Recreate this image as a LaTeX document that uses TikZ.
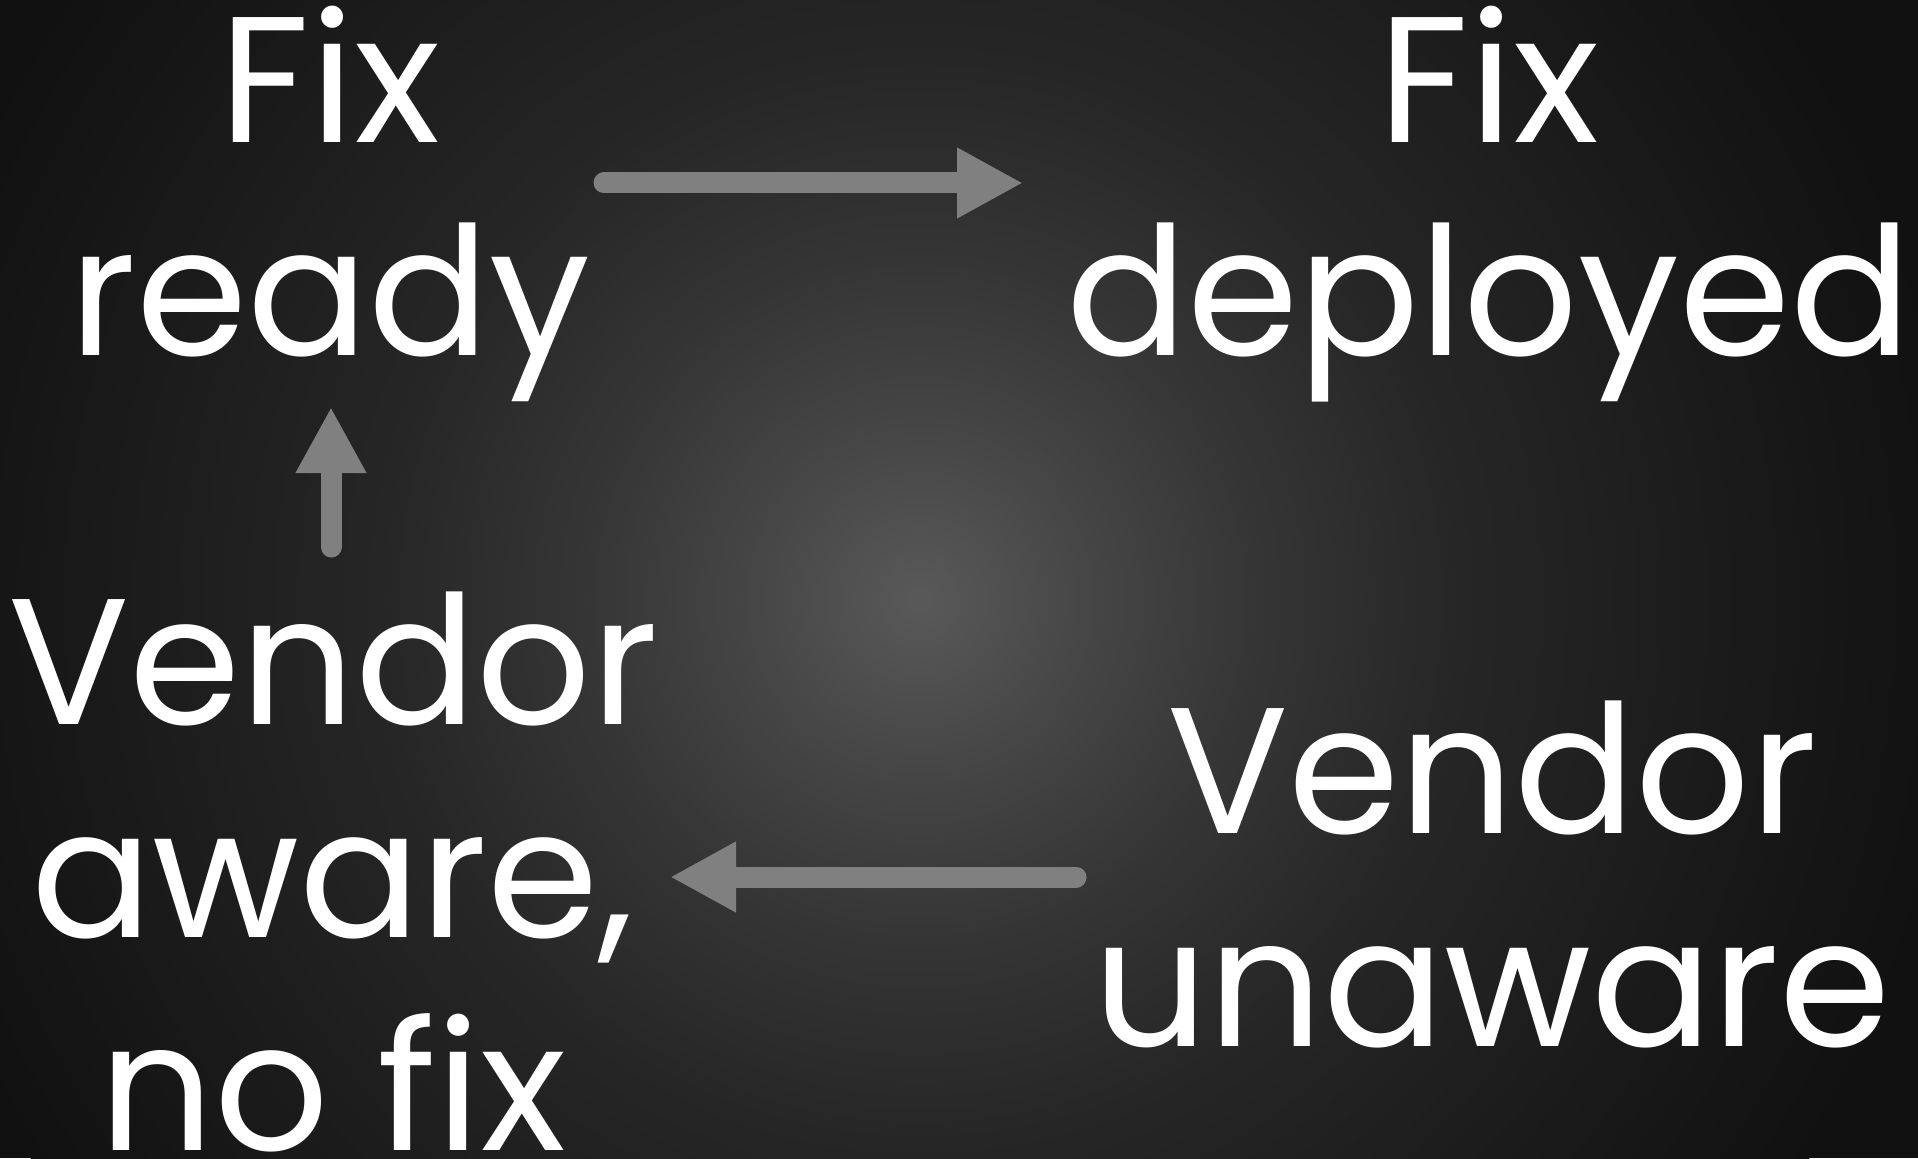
\documentclass[tikz,border=0pt]{standalone}
\usepackage{fontspec}
\setmainfont{Poppins}
\usetikzlibrary{
  arrows.meta, % For arrow tips
  shadings % For the glow in the background
}

\definecolor{glowc}{RGB}{89,89,89}
\definecolor{innerc}{RGB}{70,70,70}
\definecolor{midc}{RGB}{53,53,53}
\definecolor{darkc}{RGB}{38,38,38}
\definecolor{farc}{RGB}{20,20,20}
\definecolor{edgec}{RGB}{17,17,17}
\definecolor{arrowc}{RGB}{128,128,128}
\pgfdeclareradialshading{bgglow}{\pgfpoint{0bp}{0bp}}{%
  color(0bp)=(glowc); color(4bp)=(innerc); color(8.1bp)=(midc);
  color(12.9bp)=(darkc); color(22.9bp)=(farc); color(25bp)=(edgec);
  color(50bp)=(edgec)}

\begin{document}
\begin{tikzpicture}[
      state/.style={text=white, align=center, inner sep=0pt, anchor=base,
        font=\fontsize{51}{60.6}\selectfont}, % Style for the four states (base = last line)
      flow/.style={arrowc, line width=0.21cm, line cap=round,
        -{Triangle[length=0.66cm, width=0.66cm]}}, % Style for the arrows
    ]

    % Hintergrund
    \useasboundingbox (0,0) rectangle (19.18,-11.58);
    \fill[edgec] (0,0) rectangle (19.18,-11.58);
    \begin{scope}
      \clip (0,0) rectangle (19.18,-11.58);
      \shade[shading=bgglow] (9.20,-6.0) circle (10.5);
    \end{scope}

    % Zustaende
    \node[state] (ready) at (3.30,-3.55) {Fix\\ready};
    \node[state] (deployed) at (14.89,-3.55) {Fix\\deployed};
    \node[state] (aware) at (3.33,-11.50) {Vendor\\aware,\\no fix};
    \node[state] (unaware) at (14.92,-10.46) {Vendor\\unaware};

    % Enden der Pfeile
    \coordinate (r1) at (6.04,-1.83);
    \coordinate (r2) at (10.23,-1.83);
    \coordinate (u1) at (3.31,-5.47);
    \coordinate (u2) at (3.31,-4.07);
    \coordinate (l1) at (10.76,-8.77);
    \coordinate (l2) at (6.70,-8.77);

    % Pfeile
    \draw[flow] (r1) -- (r2);
    \draw[flow] (u1) -- (u2);
    \draw[flow] (l1) -- (l2);
  \end{tikzpicture}
\end{document}
